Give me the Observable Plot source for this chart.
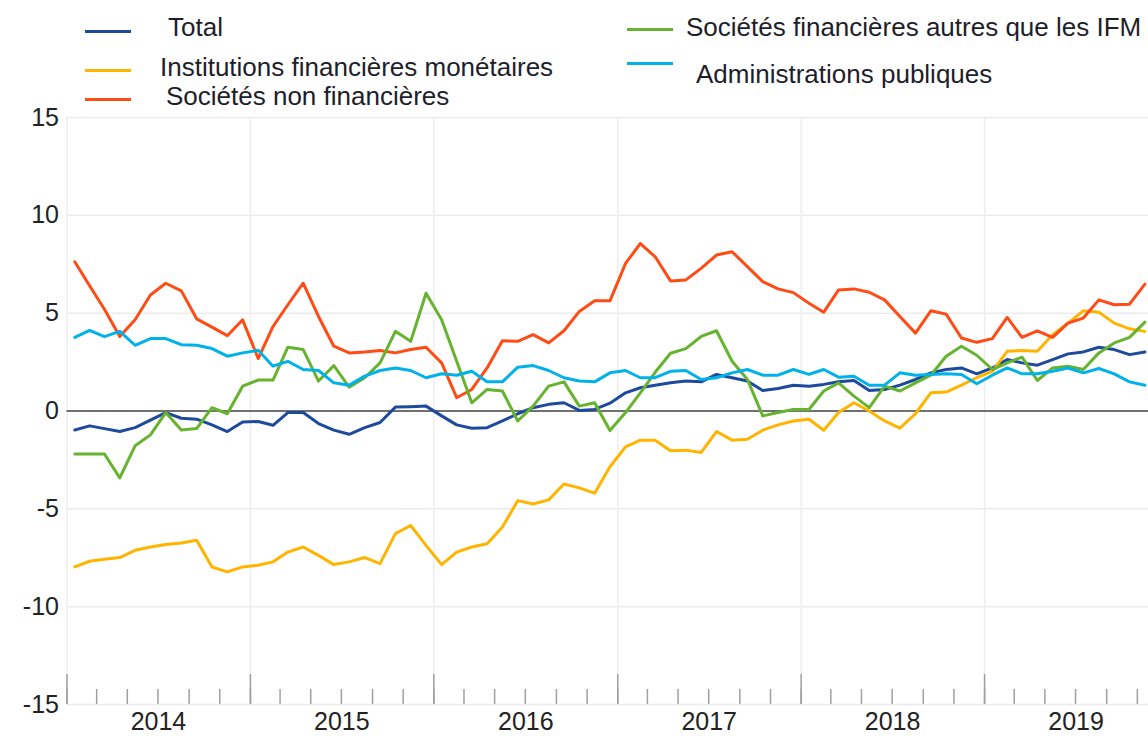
<!DOCTYPE html>
<html>
<head>
<meta charset="utf-8">
<script src="https://cdn.jsdelivr.net/npm/d3@7"></script>
<script src="https://cdn.jsdelivr.net/npm/@observablehq/plot@0.6"></script>
<style>
  html, body { margin: 0; padding: 0; background: #fff; }
  body { width: 1148px; height: 736px; overflow: hidden; font-family: "Liberation Sans", Arial, sans-serif; }
  #legend { position: relative; width: 1148px; height: 100px; }
  .sw { position: absolute; height: 3px; width: 46px; }
  .lt { position: absolute; font-size: 26px; line-height: 30px; color: #1e1e2a; white-space: nowrap; }
</style>
</head>
<body>
<div id="legend"></div>
<div id="chart"></div>
<script>
// ---- Data (monthly, Jan 2014 – Nov 2019), annual growth rates in % ----
const seriesNames = [
  "Total",
  "Institutions financières monétaires",
  "Sociétés non financières",
  "Sociétés financières autres que les IFM",
  "Administrations publiques"
];
const seriesColors = ["#1d4a9c", "#ffb400", "#ff4b14", "#65b32e", "#00b1ea"];

const total = [
  -0.97, -0.76, -0.9, -1.05, -0.85, -0.47, -0.08, -0.37, -0.42, -0.71, -1.05, -0.56,
  -0.54, -0.73, -0.08, -0.08, -0.64, -0.98, -1.19, -0.85, -0.59, 0.2, 0.22, 0.25,
  -0.25, -0.71, -0.88, -0.85, -0.51, -0.14, 0.17, 0.34, 0.42, 0.03, 0.08, 0.4,
  0.93, 1.19, 1.32, 1.44, 1.53, 1.49, 1.87, 1.7, 1.53, 1.05, 1.15, 1.32,
  1.27, 1.36, 1.49, 1.56, 1.05, 1.1, 1.32, 1.61, 1.95, 2.12, 2.2, 1.9,
  2.2, 2.63, 2.46, 2.34, 2.63, 2.92, 3.02, 3.26, 3.14, 2.88, 3.02
];
const ifm = [
  -7.97, -7.68, -7.58, -7.49, -7.12, -6.95, -6.82, -6.75, -6.61, -7.97, -8.22, -7.97,
  -7.88, -7.71, -7.21, -6.95, -7.38, -7.85, -7.71, -7.49, -7.8, -6.27, -5.85, -6.87,
  -7.85, -7.21, -6.95, -6.78, -5.93, -4.58, -4.75, -4.54, -3.73, -3.93, -4.2, -2.85,
  -1.83, -1.49, -1.49, -2.03, -2.0, -2.12, -1.05, -1.49, -1.44, -0.98, -0.71, -0.51,
  -0.42, -0.98, -0.08, 0.42, 0.0, -0.51, -0.88, -0.14, 0.93, 0.97, 1.32, 1.7,
  2.03, 3.05, 3.09, 3.05, 3.9, 4.49, 5.12, 5.05, 4.49, 4.2, 4.07
];
const snf = [
  7.63, 6.4, 5.2, 3.81, 4.66, 5.93, 6.53, 6.14, 4.71, 4.29, 3.85, 4.66,
  2.68, 4.32, 5.43, 6.53, 4.83, 3.31, 2.97, 3.02, 3.09, 2.97, 3.14, 3.26,
  2.46, 0.68, 1.1, 2.2, 3.59, 3.56, 3.9, 3.48, 4.1, 5.09, 5.63, 5.63,
  7.54, 8.56, 7.88, 6.65, 6.7, 7.29, 7.97, 8.14, 7.38, 6.61, 6.24, 6.05,
  5.51, 5.05, 6.19, 6.24, 6.07, 5.68, 4.83, 3.98, 5.12, 4.95, 3.73, 3.51,
  3.7, 4.78, 3.76, 4.1, 3.76, 4.49, 4.75, 5.68, 5.43, 5.46, 6.48
];
const sfa = [
  -2.2, -2.2, -2.2, -3.42, -1.78, -1.22, -0.08, -0.97, -0.9, 0.17, -0.14, 1.27,
  1.58, 1.58, 3.26, 3.14, 1.53, 2.32, 1.22, 1.7, 2.46, 4.07, 3.56, 6.02,
  4.66, 2.54, 0.42, 1.1, 1.02, -0.51, 0.25, 1.27, 1.49, 0.25, 0.42, -1.0,
  -0.08, 0.93, 1.98, 2.95, 3.19, 3.81, 4.1, 2.54, 1.61, -0.25, -0.08, 0.08,
  0.08, 1.02, 1.44, 0.76, 0.17, 1.27, 1.02, 1.44, 1.83, 2.8, 3.31, 2.85,
  2.12, 2.46, 2.75, 1.56, 2.2, 2.29, 2.12, 2.97, 3.48, 3.76, 4.54
];
const ap = [
  3.76, 4.12, 3.8, 4.07, 3.36, 3.7, 3.7, 3.39, 3.36, 3.19, 2.8, 2.97,
  3.1, 2.29, 2.54, 2.12, 2.07, 1.44, 1.32, 1.78, 2.07, 2.2, 2.07, 1.7,
  1.9, 1.83, 2.03, 1.49, 1.49, 2.24, 2.32, 2.07, 1.7, 1.53, 1.49, 1.95,
  2.07, 1.7, 1.7, 2.03, 2.07, 1.61, 1.7, 1.95, 2.12, 1.83, 1.83, 2.12,
  1.87, 2.12, 1.73, 1.78, 1.32, 1.32, 1.95, 1.83, 1.87, 1.9, 1.87, 1.39,
  1.83, 2.2, 1.9, 1.9, 2.03, 2.2, 1.95, 2.17, 1.9, 1.49, 1.32
];
const yearLabels = ["2014", "2015", "2016", "2017", "2018", "2019"];
const yTicks = [-15, -10, -5, 0, 5, 10, 15];

// ---- Build table ----
const months = d3.utcMonths(new Date(Date.UTC(2014, 0, 1)), new Date(Date.UTC(2019, 11, 1)));
const monthMid = months.map(m => new Date((+m + +d3.utcMonth.offset(m, 1)) / 2));
const allSeries = [total, ifm, snf, sfa, ap];
const rows = [];
allSeries.forEach((vals, s) => {
  vals.forEach((v, i) => rows.push({date: monthMid[i], value: v, series: seriesNames[s]}));
});

const yearStarts = d3.utcYears(new Date(Date.UTC(2014, 0, 1)), new Date(Date.UTC(2021, 0, 1)));
const biMonths = d3.utcMonth.every(2).range(new Date(Date.UTC(2014, 0, 1)), new Date(Date.UTC(2020, 0, 1)));
const yearMid = yearLabels.map(y => new Date(Date.UTC(+y, 6, 2)));

// ---- Legend ----
const legendItems = [
  {name: seriesNames[0], color: seriesColors[0], sx: 85, sy: 31, tx: 168, ty: 27},
  {name: seriesNames[1], color: seriesColors[1], sx: 85, sy: 70, tx: 160, ty: 67},
  {name: seriesNames[2], color: seriesColors[2], sx: 85, sy: 99, tx: 166, ty: 96},
  {name: seriesNames[3], color: seriesColors[3], sx: 627, sy: 29, tx: 686, ty: 27},
  {name: seriesNames[4], color: seriesColors[4], sx: 627, sy: 63, tx: 696, ty: 74}
];
const legend = document.getElementById("legend");
legendItems.forEach(it => {
  const sw = document.createElement("div");
  sw.className = "sw";
  sw.style.left = it.sx + "px";
  sw.style.top = (it.sy - 1.5) + "px";
  sw.style.background = it.color;
  legend.appendChild(sw);
  const t = document.createElement("div");
  t.className = "lt";
  t.style.left = it.tx + "px";
  t.style.top = (it.ty - 15) + "px";
  t.textContent = it.name;
  legend.appendChild(t);
});

// ---- Chart ----
const H = 635, MT = 17, MB = 31;
const innerH = H - MT - MB;

const chart = Plot.plot({
  width: 1148,
  height: H,
  marginTop: MT,
  marginBottom: MB,
  marginLeft: 66.5,
  marginRight: 0,
  style: {fontFamily: "Liberation Sans, Arial, sans-serif", fontSize: "25px", color: "#222", background: "#fff", overflow: "hidden"},
  x: {type: "utc", domain: [new Date(Date.UTC(2014, 0, 1)), new Date(Date.UTC(2020, 0, 1))], range: [66.5, 1167.5]},
  y: {domain: [-15, 15]},
  color: {domain: seriesNames, range: seriesColors},
  marks: [
    Plot.gridY(yTicks.filter(d => d !== 0), {stroke: "#ebebeb", strokeOpacity: 1, strokeWidth: 1.5}),
    Plot.ruleX(yearStarts, {stroke: "#eeeeee", strokeWidth: 1.5}),
    Plot.ruleX(biMonths, {insetTop: innerH - 15, stroke: "#a0a0a0", strokeWidth: 1.5}),
    Plot.ruleX(yearStarts, {insetTop: innerH - 30, stroke: "#a0a0a0", strokeWidth: 1.5}),
    Plot.ruleY([0], {stroke: "#707070", strokeWidth: 2}),
    Plot.line(rows, {x: "date", y: "value", z: "series", stroke: "series", strokeWidth: 3, strokeLinejoin: "round", strokeLinecap: "round"}),
    Plot.axisY(yTicks, {tickSize: 0, tickPadding: 8, tickFormat: d => String(d), fontSize: 25, label: null}),
    Plot.axisX(yearMid, {tickSize: 0, tickPadding: 8, tickFormat: d => d3.utcFormat("%Y")(d), fontSize: 25, label: null})
  ]
});
document.getElementById("chart").appendChild(chart);
</script>
</body>
</html>
